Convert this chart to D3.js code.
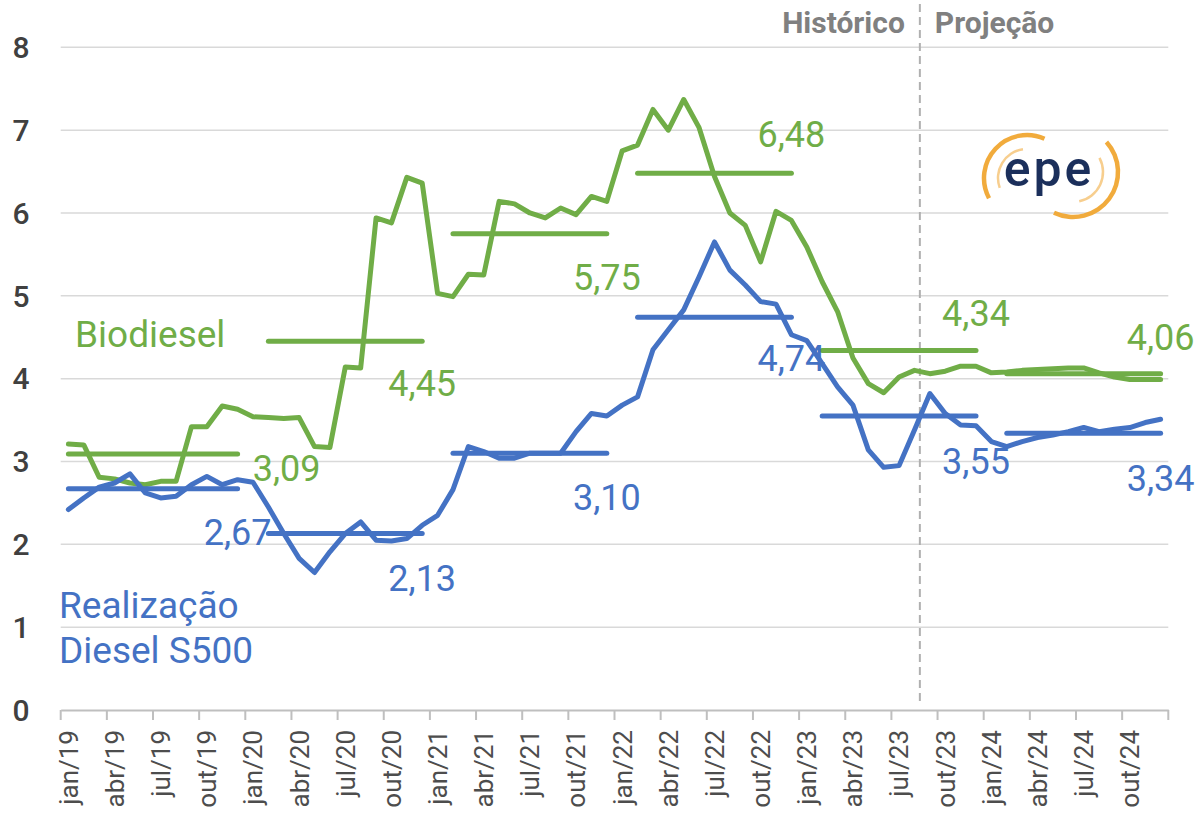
<!DOCTYPE html>
<html>
<head>
<meta charset="utf-8">
<script src="https://cdn.jsdelivr.net/npm/d3@7"></script>
<style>
  html, body { margin: 0; padding: 0; background: #fff; }
  svg { display: block; font-family: Roboto, "Noto Sans", sans-serif; }
</style>
</head>
<body>
<svg id="chart" width="1199" height="816"></svg>
<script>
// ---------- DATA ----------
const monthNames = ["jan","fev","mar","abr","mai","jun","jul","ago","set","out","nov","dez"];
const years = ["19","20","21","22","23","24"];
const categories = years.flatMap(y => monthNames.map(m => m + "/" + y));

const biodiesel = [
  3.21, 3.20, 2.81, 2.79, 2.74, 2.72, 2.76, 2.76, 3.42, 3.42, 3.67, 3.63,
  3.54, 3.53, 3.52, 3.53, 3.18, 3.17, 4.14, 4.13, 5.94, 5.88, 6.43, 6.36,
  5.03, 4.99, 5.26, 5.25, 6.14, 6.11, 6.00, 5.94, 6.06, 5.98, 6.20, 6.14,
  6.75, 6.82, 7.25, 7.00, 7.37, 7.03, 6.44, 6.00, 5.85, 5.41, 6.02, 5.91,
  5.59, 5.17, 4.81, 4.25, 3.94, 3.83, 4.02, 4.10, 4.06, 4.09, 4.15, 4.15,
  4.07, 4.08, 4.10, 4.11, 4.12, 4.13, 4.13, 4.07, 4.02, 3.99, 3.99, 3.99
];
const dieselS500 = [
  2.42, 2.56, 2.69, 2.74, 2.85, 2.62, 2.56, 2.58, 2.72, 2.82, 2.72, 2.78,
  2.75, 2.45, 2.13, 1.83, 1.66, 1.91, 2.13, 2.27, 2.05, 2.04, 2.07, 2.23,
  2.35, 2.66, 3.18, 3.12, 3.04, 3.04, 3.10, 3.10, 3.10, 3.36, 3.58, 3.55,
  3.68, 3.78, 4.35, 4.59, 4.83, 5.23, 5.65, 5.31, 5.13, 4.93, 4.90, 4.53,
  4.46, 4.18, 3.90, 3.68, 3.14, 2.93, 2.95, 3.38, 3.82, 3.58, 3.44, 3.43,
  3.24, 3.18, 3.24, 3.29, 3.32, 3.36, 3.41, 3.36, 3.39, 3.41, 3.47, 3.51
];
const biodieselAvg = [3.09, 4.45, 5.75, 6.48, 4.34, 4.06];
const dieselAvg    = [2.67, 2.13, 3.10, 4.74, 3.55, 3.34];
const yTicks = [0, 1, 2, 3, 4, 5, 6, 7, 8];
const xTickLabels = categories.filter((d, i) => i % 3 === 0);
const splitCategory = "ago/23";   // Histórico | Projeção boundary

// ---------- LAYOUT ----------
const GREEN = "#70ad47", BLUE = "#4472c4";
const svg = d3.select("#chart");
const x = d3.scaleBand().domain(categories).range([60.7, 1168.3]).padding(0);
const cx = d => x(d) + x.bandwidth() / 2;
const y = d3.scaleLinear().domain([0, 8]).range([710, 47.3]);

// gridlines
svg.append("g").selectAll("line").data(yTicks.filter(v => v > 0)).join("line")
  .attr("x1", x.range()[0]).attr("x2", x.range()[1])
  .attr("y1", d => y(d)).attr("y2", d => y(d))
  .attr("stroke", "#d9d9d9").attr("stroke-width", 1.5);

// y labels
svg.append("g").selectAll("text").data(yTicks).join("text")
  .attr("x", 21).attr("y", d => y(d)).attr("dy", "0.36em")
  .attr("text-anchor", "middle").attr("font-size", 30).attr("font-weight", 500)
  .attr("fill", "#404040").text(d => d);

// x axis
const xAxis = d3.axisBottom(x).tickValues(xTickLabels).tickSize(0).tickFormat(d => d);
const gx = svg.append("g").attr("transform", `translate(0,${y(0)})`).call(xAxis);
gx.attr("font-size", null).attr("font-family", null);
gx.select(".domain").attr("stroke", "#bfbfbf").attr("stroke-width", 2);
gx.selectAll(".tick text")
  .attr("transform", "translate(0,20) rotate(-90)")
  .attr("text-anchor", "end").attr("x", 0).attr("y", 0).attr("dy", "0.36em")
  .attr("font-size", 26).attr("font-family", "Roboto, sans-serif").attr("fill", "#4d4d4d");
// boundary ticks every 3 months
const boundaries = xTickLabels.map(d => x(d)).concat([x.range()[1]]);
svg.append("g").selectAll("line").data(boundaries).join("line")
  .attr("x1", d => d).attr("x2", d => d)
  .attr("y1", y(0)).attr("y2", y(0) + 10)
  .attr("stroke", "#bfbfbf").attr("stroke-width", 2);

// Histórico | Projeção
const splitX = x(splitCategory) + x.bandwidth() * 0.85;
svg.append("line")
  .attr("x1", splitX).attr("x2", splitX).attr("y1", 4).attr("y2", 703)
  .attr("stroke", "#b0b0b0").attr("stroke-width", 2).attr("stroke-dasharray", "8,5");
svg.append("text").attr("x", splitX - 15).attr("y", 33).attr("text-anchor", "end")
  .attr("font-size", 30).attr("font-weight", 700).attr("fill", "#808080").text("Histórico");
svg.append("text").attr("x", splitX + 15).attr("y", 33).attr("text-anchor", "start")
  .attr("font-size", 30).attr("font-weight", 700).attr("fill", "#808080").text("Projeção");

// series lines
const line = d3.line().x((d, i) => cx(categories[i])).y(d => y(d));
svg.append("path").datum(biodiesel).attr("d", line)
  .attr("fill", "none").attr("stroke", GREEN).attr("stroke-width", 5)
  .attr("stroke-linejoin", "round").attr("stroke-linecap", "round");
svg.append("path").datum(dieselS500).attr("d", line)
  .attr("fill", "none").attr("stroke", BLUE).attr("stroke-width", 5)
  .attr("stroke-linejoin", "round").attr("stroke-linecap", "round");

// yearly average segments
function segs(avgs) {
  return avgs.map((v, k) => ({
    v, k,
    x1: cx(categories[k === 0 ? 0 : 12 * k + 1]),
    x2: cx(categories[12 * k + 11])
  }));
}
const greenSegs = segs(biodieselAvg), blueSegs = segs(dieselAvg);
[[greenSegs, GREEN], [blueSegs, BLUE]].forEach(([s, c]) => {
  svg.append("g").selectAll("line").data(s).join("line")
    .attr("x1", d => d.x1).attr("x2", d => d.x2)
    .attr("y1", d => y(d.v)).attr("y2", d => y(d.v))
    .attr("stroke", c).attr("stroke-width", 5).attr("stroke-linecap", "round");
});

// average labels (offsets from segment end)
const greenLabelOffset = [[49, 14], [0, 42], [0, 43], [0, -39], [0, -37], [0, -37]];
const blueLabelOffset  = [[0, 43], [0, 44], [0, 44], [0, 41], [0, 45], [0, 45]];
const fmt = v => v.toFixed(2).replace(".", ",");
[[greenSegs, GREEN, greenLabelOffset], [blueSegs, BLUE, blueLabelOffset]].forEach(([s, c, off]) => {
  svg.append("g").selectAll("text").data(s).join("text")
    .attr("x", d => d.x2 + off[d.k][0]).attr("y", d => y(d.v) + off[d.k][1])
    .attr("dy", "0.36em").attr("text-anchor", "middle")
    .attr("font-size", 36).attr("fill", c).text(d => fmt(d.v));
});

// legend-like labels
svg.append("text").attr("x", 75).attr("y", 347).attr("font-size", 37).attr("fill", GREEN).text("Biodiesel");
svg.append("text").attr("x", 59).attr("y", 618).attr("font-size", 37).attr("fill", BLUE).text("Realização");
svg.append("text").attr("x", 59).attr("y", 663).attr("font-size", 37).attr("fill", BLUE).text("Diesel S500");

// epe logo
const logo = svg.append("g");
const orange = "#f0a632";
const arc = d3.arc();
const arcs = [
  { c: [1027, 178], r: 43, w: 4.5, a0: -118, a1: 24, op: 0.95 },
  { c: [1027, 178], r: 29, w: 2.5, a0: -110, a1: -8, op: 0.55 },
  { c: [1073, 172], r: 45, w: 4.5, a0: 48, a1: 205, op: 0.95 },
  { c: [1073, 172], r: 30, w: 2.5, a0: 62, a1: 168, op: 0.55 }
];
arcs.forEach(a => {
  logo.append("path")
    .attr("transform", `translate(${a.c[0]},${a.c[1]})`)
    .attr("d", arc({ innerRadius: a.r - a.w / 2, outerRadius: a.r + a.w / 2,
                     startAngle: a.a0 * Math.PI / 180, endAngle: a.a1 * Math.PI / 180 }))
    .attr("fill", orange).attr("opacity", a.op);
});
logo.append("text").attr("x", 1049).attr("y", 186).attr("text-anchor", "middle")
  .attr("font-size", 50).attr("font-weight", 500).attr("letter-spacing", 3)
  .attr("fill", "#1b2f5b").text("epe");
</script>
</body>
</html>
